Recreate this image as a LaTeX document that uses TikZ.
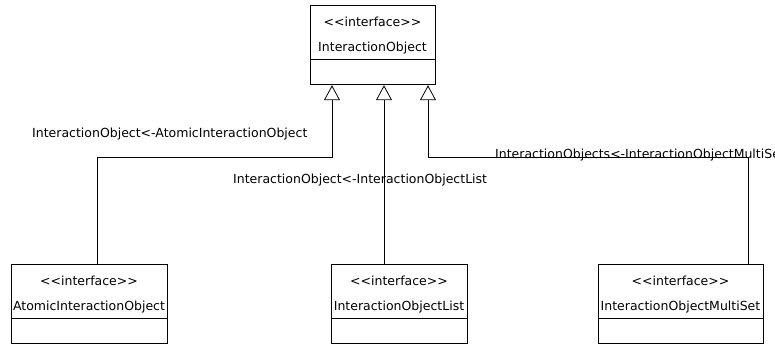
\documentclass[tikz,border=0pt]{standalone}
\usepackage{fontspec}
\newfontfamily\umlfont{DejaVu Sans}
\definecolor{umlink}{RGB}{0,0,0}
\usetikzlibrary{arrows.meta, positioning}
\newcommand{\umlstereo}[1]{\rule{0pt}{17pt}<<#1>>}

\begin{document}
\begin{tikzpicture}[x=1pt,y=-1pt,
      font=\umlfont\fontsize{12.5}{25}\selectfont,
      node distance=0pt,
      classhead/.style={draw=umlink,line width=0.8pt,minimum height=54pt,align=center,inner sep=0pt},
      classbody/.style={draw=umlink,line width=0.8pt,minimum height=25pt,inner sep=0pt},
      genline/.style={draw=umlink,line width=0.8pt,-{Triangle[open,length=15pt,width=16pt]}},
      rolelabel/.style={inner sep=0pt,anchor=base west}]
    \useasboundingbox (0,0) rectangle (775,345);
    \clip (0,0) rectangle (775,345);
    % interfaces
    \node[classhead,minimum width=125pt] (io) at (372.5,32) {\umlstereo{interface}\\InteractionObject};
    \node[classbody,minimum width=125pt,below=of io] (io-ops) {};
    \node[classhead,minimum width=156pt] (aio) at (89,291) {\umlstereo{interface}\\AtomicInteractionObject};
    \node[classbody,minimum width=156pt,below=of aio] (aio-ops) {};
    \node[classhead,minimum width=136pt] (iol) at (399,291) {\umlstereo{interface}\\InteractionObjectList};
    \node[classbody,minimum width=136pt,below=of iol] (iol-ops) {};
    \node[classhead,minimum width=165pt] (iom) at (680.5,291) {\umlstereo{interface}\\InteractionObjectMultiSet};
    \node[classbody,minimum width=165pt,below=of iom] (iom-ops) {};
    % bends
    \coordinate (k1a) at (97,157);
    \coordinate (k1b) at (332,157);
    \coordinate (k2) at (384,157);
    \coordinate (k3a) at (748,157);
    \coordinate (k3b) at (428,157);
    \draw[genline] (aio.north -| k1a) -- (k1a) -- (k1b) -- (io-ops.south -| k1b);
    \draw[genline] (iol.north -| k2) -- (io-ops.south -| k2);
    \draw[genline] (iom.north -| k3a) -- (k3a) -- (k3b) -- (io-ops.south -| k3b);
    % role names
    \node[rolelabel] (lbl-atomic) at (32,137) {InteractionObject<-AtomicInteractionObject};
    \node[rolelabel] (lbl-list) at (233,183) {InteractionObject<-InteractionObjectList};
    \node[rolelabel] (lbl-multi) at (495,158) {InteractionObjects<-InteractionObjectMultiSet};
  \end{tikzpicture}
\end{document}
